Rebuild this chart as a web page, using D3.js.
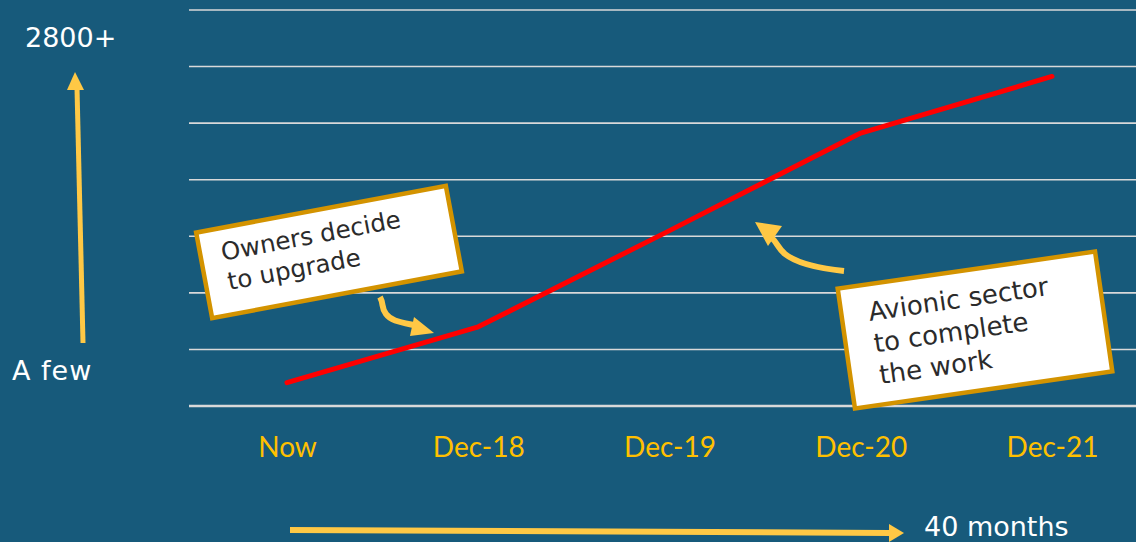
<!DOCTYPE html>
<html><head><meta charset="utf-8">
<script src="https://cdn.jsdelivr.net/npm/d3@7"></script>
<style>
html,body{margin:0;padding:0;background:#175A7B;}
svg{display:block;}
</style></head>
<body>
<svg id="c" width="1136" height="542"></svg>
<script>
const categories = ["Now", "Dec-18", "Dec-19", "Dec-20", "Dec-21"];
const values = [165, 560, 1240, 1930, 2330];
const yTicks = [0, 400, 800, 1200, 1600, 2000, 2400, 2800];
const yTopLabel = "2800+";
const yBottomLabel = "A few";
const xSpanLabel = "40 months";
const note1 = ["Owners decide", "to upgrade"];
const note2 = ["Avionic sector", "to complete", "the work"];

const W = 1136, H = 542;
const svg = d3.select("#c");
svg.append("rect").attr("width", W).attr("height", H).attr("fill", "#175A7B");

const x = d3.scalePoint().domain(categories).range([287, 1052]);
const y = d3.scaleLinear().domain([0, 2800]).range([406, 10]);

// gridlines
svg.append("g").selectAll("line").data(yTicks).join("line")
  .attr("x1", 189).attr("x2", W)
  .attr("y1", d => y(d)).attr("y2", d => y(d))
  .attr("stroke", "#D9D9D9")
  .attr("stroke-width", d => d === 0 ? 2.5 : 1.6);

// x axis labels
const xAxis = d3.axisBottom(x).tickSize(0).tickPadding(0);
const gx = svg.append("g").attr("transform", "translate(0,437)").call(xAxis);
gx.select(".domain").remove();
gx.selectAll("text")
  .attr("fill", "#FFC000")
  .attr("font-family", "Lato, sans-serif")
  .attr("font-size", 28)
  .attr("dy", "0.71em");

// red line
svg.append("path")
  .datum(values)
  .attr("fill", "none")
  .attr("stroke", "#FF0000")
  .attr("stroke-width", 5)
  .attr("stroke-linecap", "round")
  .attr("stroke-linejoin", "round")
  .attr("d", d3.line().x((d, i) => x(categories[i])).y(d => y(d)));

const yellow = "#FFC845";
// vertical arrow
svg.append("line").attr("x1", 83).attr("y1", 343).attr("x2", 77).attr("y2", 88)
  .attr("stroke", yellow).attr("stroke-width", 5);
svg.append("path").attr("d", "M75,72 L84,90 L67,90 Z").attr("fill", yellow);

// horizontal arrow
svg.append("line").attr("x1", 290).attr("y1", 530).attr("x2", 890).attr("y2", 533)
  .attr("stroke", yellow).attr("stroke-width", 6);
svg.append("path").attr("d", "M904,533 L889,524 L889,542 Z").attr("fill", yellow);

// labels
const hand = "'DejaVu Sans', sans-serif";
svg.append("text").attr("x", 25).attr("y", 47).text(yTopLabel)
  .attr("fill", "#FFFFFF").attr("font-family", hand).attr("font-size", 27);
svg.append("text").attr("x", 12).attr("y", 380).text(yBottomLabel)
  .attr("fill", "#FFFFFF").attr("font-family", hand).attr("font-size", 27).attr("letter-spacing", 1);
svg.append("text").attr("x", 924).attr("y", 536).text(xSpanLabel)
  .attr("fill", "#FFFFFF").attr("font-family", hand).attr("font-size", 27);

// curly arrow 1
svg.append("path")
  .attr("d", "M380,297 C384,304 381,308 386,314 C391,321 400,322 418,326")
  .attr("fill", "none").attr("stroke", yellow).attr("stroke-width", 6).attr("stroke-linecap", "butt");
svg.append("path").attr("d", "M434,333 L414,317 L410,336 Z").attr("fill", yellow);

// curly arrow 2
svg.append("path")
  .attr("d", "M844,271 C815,268 795,262 785,254 C778,248 778,244 772,238")
  .attr("fill", "none").attr("stroke", yellow).attr("stroke-width", 6);
svg.append("path").attr("d", "M755,222 L782,226 L768,246 Z").attr("fill", yellow);

// annotation boxes
function note(cx, cy, w, h, ang, lines, lx, ly, lh, fs) {
  const g = svg.append("g").attr("transform", `translate(${cx},${cy}) rotate(${ang})`);
  g.append("rect").attr("x", -w/2).attr("y", -h/2).attr("width", w).attr("height", h)
    .attr("fill", "#FFFFFF").attr("stroke", "#D39300").attr("stroke-width", 4.5);
  g.append("g").selectAll("text").data(lines).join("text")
    .attr("x", (d, i) => lx + i * 1).attr("y", (d, i) => ly + i * lh)
    .text(d => d)
    .attr("fill", "#2B2B2B").attr("font-family", hand).attr("font-size", fs);
}
note(329, 252, 254, 87, -10.6, note1, -106, -11, 30, 24.5);
note(975, 330, 260, 121, -8.2, note2, -103, -24, 32, 26);
</script>
</body></html>
